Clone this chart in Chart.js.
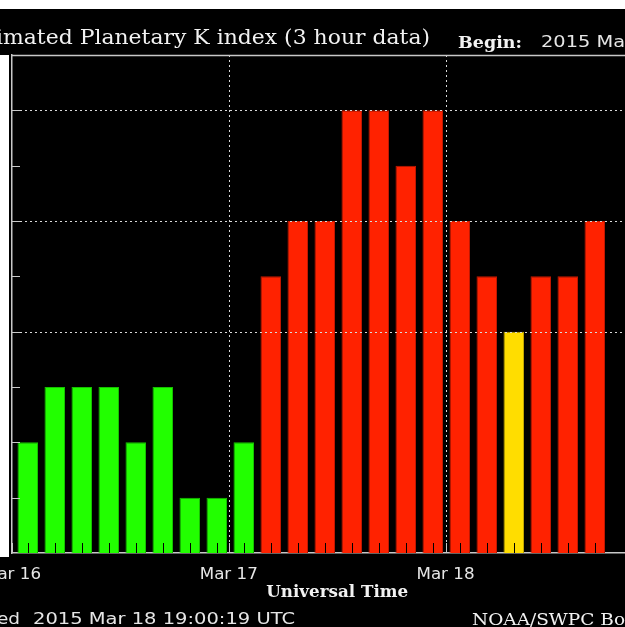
<!DOCTYPE html>
<html>
<head>
<meta charset="utf-8">
<script src="https://cdn.jsdelivr.net/npm/chart.js@4.4.1/dist/chart.umd.min.js"></script>
<style>
  html, body { margin: 0; padding: 0; background: #000; overflow: hidden; }
  #wrap { position: relative; width: 625px; height: 627px; overflow: hidden; background: #000; }
  #kp { position: absolute; left: -31px; top: 0; }
  .white { position: absolute; background: #fff; }
</style>
</head>
<body>
<div id="wrap">
  <canvas id="kp" width="760" height="627"></canvas>
  <div class="white" style="left:0;top:0;width:625px;height:9px"></div>
  <div class="white" style="left:0;top:55px;width:9px;height:502px"></div>
</div>
<script>
// start hour (UTC, from Mar 16 00:00) of each 3-hour interval
const hours = [0, 3, 6, 9, 12, 15, 18, 21, 24, 27, 30, 33, 36, 39, 42, 45, 48, 51, 54, 57, 60, 63];
const kp = [2, 3, 3, 3, 2, 3, 1, 1, 2, 5, 6, 6, 8, 8, 7, 8, 6, 5, 4, 5, 5, 6];
const dayLabels = ['Mar 16', 'Mar 17', 'Mar 18', 'Mar 19'];
const gridKp = [4, 6, 8];

const SHIFT = 31; // canvas sits 31px left of the page

const kpColor = (v) => v < 4 ? '#22ff00' : (v === 4 ? '#ffdd00' : '#ff2200');
const kpEdge = (v) => v < 4 ? '#16c000' : (v === 4 ? '#c0a400' : '#c01800');

function line(ctx, x1, y1, x2, y2) {
  ctx.beginPath();
  ctx.moveTo(x1, y1);
  ctx.lineTo(x2, y2);
  ctx.stroke();
}

function drawText(ctx, s, x, y, font, align, color, fitStr, fitW) {
  ctx.font = font;
  const sx = fitStr ? fitW / ctx.measureText(fitStr).width : 1;
  ctx.save();
  ctx.translate(x + SHIFT, y);
  ctx.scale(sx, 1);
  ctx.textAlign = align;
  ctx.textBaseline = 'alphabetic';
  ctx.fillStyle = color;
  ctx.fillText(s, 0, 0);
  ctx.restore();
}

const kpDecor = {
  id: 'kpDecor',
  afterDatasetsDraw(chart) {
    const { ctx, chartArea: a, scales: { x, y } } = chart;
    ctx.save();
    ctx.lineWidth = 1;

    // small dark ticks at the bar centres
    ctx.strokeStyle = '#000';
    chart.getDatasetMeta(0).data.forEach((bar) => {
      const px = Math.round(bar.x) + 0.5;
      line(ctx, px, a.bottom, px, a.bottom - 10);
    });

    // dotted Kp grid lines, drawn over the bars
    ctx.strokeStyle = '#d8d8d8';
    ctx.setLineDash([2, 3]);
    gridKp.forEach((v) => {
      const py = Math.round(y.getPixelForValue(v)) + 0.5;
      line(ctx, a.left + 8, py, a.right, py);
    });
    // dotted day lines
    x.ticks.forEach((t) => {
      if (t.value <= 0 || t.value >= x.max) return;
      const px = Math.round(x.getPixelForValue(t.value)) + 0.5;
      line(ctx, px, a.top, px, a.bottom - 10);
    });
    ctx.setLineDash([]);

    ctx.strokeStyle = '#c8c8c8';
    // day ticks
    x.ticks.forEach((t) => {
      const px = Math.round(x.getPixelForValue(t.value)) + 0.5;
      line(ctx, px, a.bottom, px, a.bottom - 10);
    });
    // Kp ticks pointing inwards
    y.ticks.forEach((t) => {
      if (t.value <= 0 || t.value >= 9) return;
      const py = Math.round(y.getPixelForValue(t.value)) + 0.5;
      line(ctx, a.left, py, a.left + 8, py);
    });
    // top frame
    ctx.lineWidth = 1.5;
    line(ctx, a.left, a.top + 0.5, a.right, a.top + 0.5);
    ctx.restore();
  },
  afterDraw(chart) {
    const { ctx, chartArea: a, scales: { x } } = chart;
    const sans = '"DejaVu Sans", sans-serif';
    const serif = '"DejaVu Serif", serif';

    drawText(ctx, 'Estimated Planetary K index (3 hour data)', 430, 44, '20px ' + serif, 'right', '#f2f2f2',
      'mated Planetary K index (3 hour data)', 427);
    drawText(ctx, 'Begin:', 458, 48, 'bold 17px ' + serif, 'left', '#f2f2f2', 'Begin:', 64);
    drawText(ctx, '2015 Mar 16 0000 UTC', 541, 47, '16px ' + sans, 'left', '#e6e6e6', '2015 Ma', 84);

    x.ticks.forEach((t, i) => {
      const px = x.getPixelForValue(t.value) - SHIFT;
      drawText(ctx, dayLabels[i], px, 579, '16px ' + sans, 'center', '#e6e6e6', 'Mar 17', 58);
    });

    drawText(ctx, 'Universal Time', (a.left + a.right) / 2 - SHIFT, 597, 'bold 17px ' + serif, 'center', '#f2f2f2',
      'Universal Time', 142);
    drawText(ctx, 'Updated', 20, 624, '16px ' + sans, 'right', '#e6e6e6', '2015', 47);
    drawText(ctx, '2015 Mar 18 19:00:19 UTC', 33, 624, '16px ' + sans, 'left', '#e6e6e6',
      '2015 Mar 18 19:00:19 UTC', 262);
    drawText(ctx, 'NOAA/SWPC Boulder, CO USA', 472, 625, '17px ' + serif, 'left', '#f2f2f2', 'NOAA/SWPC Bo', 153);
  }
};

const points = hours.map((h, i) => ({ x: h + 1.5, y: kp[i] }));

new Chart(document.getElementById('kp'), {
  type: 'bar',
  data: {
    datasets: [{
      data: points,
      backgroundColor: kp.map(kpColor),
      borderColor: kp.map(kpEdge),
      borderWidth: { left: 1, right: 1, top: 1, bottom: 0 },
      borderSkipped: 'bottom',
      barPercentage: 0.76,
      categoryPercentage: 1
    }]
  },
  options: {
    responsive: false,
    animation: false,
    layout: { padding: { left: 43, top: 55, right: 66.75, bottom: 74 } },
    plugins: {
      legend: { display: false },
      tooltip: { enabled: false },
      title: { display: false }
    },
    scales: {
      x: {
        type: 'linear',
        min: -0.25,
        max: 72,
        offset: false,
        ticks: { display: false, stepSize: 24, includeBounds: false },
        grid: { display: false, drawTicks: false, offset: false },
        border: { display: true, color: '#c8c8c8', width: 1.5 }
      },
      y: {
        min: 0,
        max: 9,
        ticks: { display: false, stepSize: 1 },
        grid: { display: false, drawTicks: false },
        border: { display: true, color: '#c8c8c8', width: 1.5 }
      }
    }
  },
  plugins: [kpDecor]
});
</script>
</body>
</html>
